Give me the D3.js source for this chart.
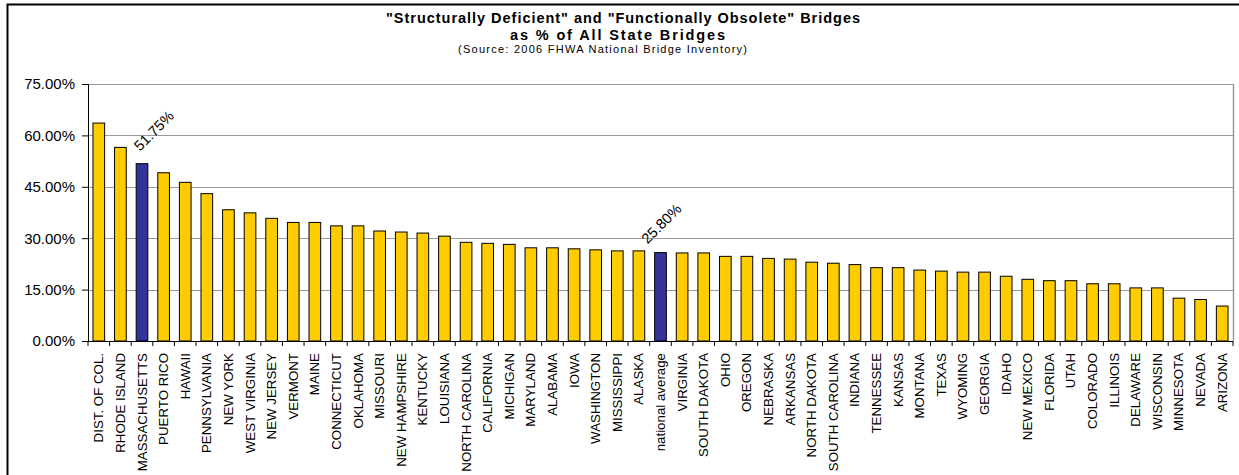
<!DOCTYPE html>
<html>
<head>
<meta charset="utf-8">
<script src="https://cdn.jsdelivr.net/npm/d3@7"></script>
<style>
  html, body { margin: 0; padding: 0; background: #fff; }
  svg { display: block; font-family: "Liberation Sans", Arial, sans-serif; }
</style>
</head>
<body>
<svg id="chart" width="1239" height="475"></svg>
<script>
// Share of bridges rated structurally deficient or functionally obsolete, by state (2006 NBI)
const states = [
  "DIST. OF COL.", "RHODE ISLAND", "MASSACHUSETTS", "PUERTO RICO", "HAWAII",
  "PENNSYLVANIA", "NEW YORK", "WEST VIRGINIA", "NEW JERSEY", "VERMONT",
  "MAINE", "CONNECTICUT", "OKLAHOMA", "MISSOURI", "NEW HAMPSHIRE",
  "KENTUCKY", "LOUISIANA", "NORTH CAROLINA", "CALIFORNIA", "MICHIGAN",
  "MARYLAND", "ALABAMA", "IOWA", "WASHINGTON", "MISSISSIPPI",
  "ALASKA", "national average", "VIRGINIA", "SOUTH DAKOTA", "OHIO",
  "OREGON", "NEBRASKA", "ARKANSAS", "NORTH DAKOTA", "SOUTH CAROLINA",
  "INDIANA", "TENNESSEE", "KANSAS", "MONTANA", "TEXAS",
  "WYOMING", "GEORGIA", "IDAHO", "NEW MEXICO", "FLORIDA",
  "UTAH", "COLORADO", "ILLINOIS", "DELAWARE", "WISCONSIN",
  "MINNESOTA", "NEVADA", "ARIZONA"
];

const percents = [
  63.6, 56.5, 51.75, 49.1, 46.3,
  43.0, 38.3, 37.4, 35.8, 34.6,
  34.6, 33.6, 33.6, 32.1, 31.8,
  31.5, 30.6, 28.8, 28.5, 28.2,
  27.2, 27.2, 26.9, 26.6, 26.3,
  26.3, 25.80, 25.7, 25.7, 24.7,
  24.7, 24.1, 23.9, 23.0, 22.7,
  22.3, 21.4, 21.4, 20.7, 20.4,
  20.1, 20.1, 18.9, 18.0, 17.6,
  17.6, 16.7, 16.7, 15.5, 15.5,
  12.5, 12.1, 10.2
];

// Bars drawn in the highlight colour and given a value label
const highlighted = ["MASSACHUSETTS", "national average"];

const yTicks = [0, 15, 30, 45, 60, 75];

const titleLines = [
  "\"Structurally Deficient\" and \"Functionally Obsolete\" Bridges",
  "as % of All State Bridges"
];
const subtitle = "(Source: 2006 FHWA National Bridge Inventory)";

const rows = states.map((s, i) => ({ state: s, value: percents[i] }));

const svg = d3.select("#chart");
const plot = { left: 88, right: 1233, top: 84, bottom: 341 };

// outer chart frame (runs off the right and bottom edges)
svg.append("rect")
  .attr("x", 7.5).attr("y", 4.5)
  .attr("width", 1300).attr("height", 600)
  .attr("fill", "none").attr("stroke", "#000").attr("stroke-width", 2);

const x = d3.scaleBand()
  .domain(states)
  .range([plot.left, plot.right])
  .paddingInner(0.46).paddingOuter(0.23);

const y = d3.scaleLinear()
  .domain([0, 75])
  .range([plot.bottom, plot.top]);

// horizontal gridlines
svg.append("g")
  .selectAll("line")
  .data(yTicks.filter(t => t > 0))
  .join("line")
  .attr("x1", plot.left).attr("x2", plot.right)
  .attr("y1", d => Math.round(y(d)) + 0.5).attr("y2", d => Math.round(y(d)) + 0.5)
  .attr("stroke", "#9a9a9a").attr("stroke-width", 1);

// right edge of the plot area
svg.append("line")
  .attr("x1", plot.right + 0.5).attr("x2", plot.right + 0.5)
  .attr("y1", y(75)).attr("y2", plot.bottom)
  .attr("stroke", "#9a9a9a").attr("stroke-width", 1.5);

// bars
svg.append("g")
  .selectAll("rect")
  .data(rows)
  .join("rect")
  .attr("x", d => x(d.state))
  .attr("y", d => y(d.value))
  .attr("width", x.bandwidth())
  .attr("height", d => y(0) - y(d.value))
  .attr("fill", d => highlighted.includes(d.state) ? "#333399" : "#FFCC00")
  .attr("stroke", "#000").attr("stroke-width", 1);

// y axis
const yAxis = d3.axisLeft(y)
  .tickValues(yTicks)
  .tickFormat(d => d3.format(".2f")(d) + "%")
  .tickSize(6).tickPadding(7);
const gy = svg.append("g")
  .attr("transform", `translate(${plot.left},0)`)
  .call(yAxis);
gy.select(".domain").attr("stroke", "#000");
gy.selectAll(".tick line").attr("stroke", "#000");
gy.selectAll(".tick text")
  .attr("font-size", 15).attr("fill", "#000")
  .attr("font-family", "Liberation Sans, Arial, sans-serif");

// x axis: tick marks between categories
const gx = svg.append("g");
gx.append("line")
  .attr("x1", plot.left).attr("x2", plot.right)
  .attr("y1", plot.bottom + 0.5).attr("y2", plot.bottom + 0.5)
  .attr("stroke", "#000");
const step = x.step();
gx.selectAll("line.tk")
  .data(d3.range(states.length + 1))
  .join("line")
  .attr("class", "tk")
  .attr("x1", i => plot.left + i * step).attr("x2", i => plot.left + i * step)
  .attr("y1", plot.bottom).attr("y2", plot.bottom + 5)
  .attr("stroke", "#000");

// category labels, rotated to read upward
gx.selectAll("text")
  .data(states)
  .join("text")
  .attr("transform", d => `translate(${x(d) + x.bandwidth() / 2 + 4.5},${plot.bottom + 12}) rotate(-90)`)
  .attr("text-anchor", "end")
  .attr("font-size", 13.3)
  .attr("fill", "#000")
  .text(d => d);

// value labels on highlighted bars, at a 45 degree slant
const labelOffset = {
  "MASSACHUSETTS": [-2, -12],
  "national average": [-13, -8]
};
svg.append("g")
  .selectAll("text")
  .data(rows.filter(d => highlighted.includes(d.state)))
  .join("text")
  .attr("transform", d => {
    const [dx, dy] = labelOffset[d.state];
    return `translate(${x(d.state) + x.bandwidth() / 2 + dx},${y(d.value) + dy}) rotate(-45)`;
  })
  .attr("font-size", 14.5)
  .attr("fill", "#000")
  .text(d => d3.format(".2f")(d.value) + "%");

// titles
svg.append("text")
  .attr("x", 386).attr("y", 23)
  .attr("font-size", 14.5).attr("font-weight", "bold")
  .attr("textLength", 474).attr("lengthAdjust", "spacing")
  .text(titleLines[0]);
svg.append("text")
  .attr("x", 510).attr("y", 39.5)
  .attr("font-size", 14.5).attr("font-weight", "bold")
  .attr("textLength", 215).attr("lengthAdjust", "spacing")
  .text(titleLines[1]);
svg.append("text")
  .attr("x", 458).attr("y", 52.8)
  .attr("font-size", 11)
  .attr("textLength", 289).attr("lengthAdjust", "spacing")
  .text(subtitle);
</script>
</body>
</html>
